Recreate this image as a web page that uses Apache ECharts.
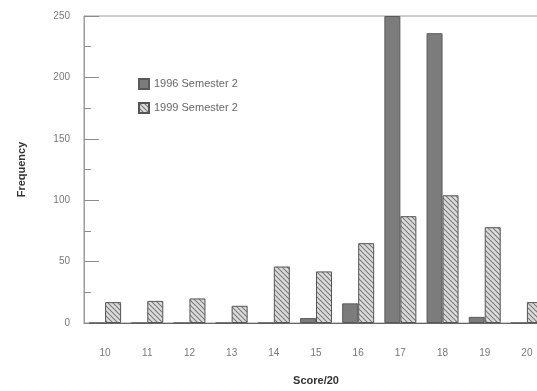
<!DOCTYPE html>
<html>
<head>
<meta charset="utf-8">
<script src="https://cdn.jsdelivr.net/npm/echarts@6/dist/echarts.min.js"></script>
<style>
html,body{margin:0;padding:0;background:#fff;overflow:hidden;width:537px;height:391px;}
#chart{width:549px;height:391px;}
</style>
</head>
<body>
<div id="chart"></div>
<script>
var categories = ['10','11','12','13','14','15','16','17','18','19','20'];
var sem1996 = [0, 0, 0, 0, 0, 4, 16, 250, 236, 5, 0];
var sem1999 = [17, 18, 20, 14, 46, 42, 65, 87, 104, 78, 17];
var yTicks = [0, 50, 100, 150, 200, 250];

function hatch() {
  var s = 5;
  var c = document.createElement('canvas');
  c.width = s; c.height = s;
  var g = c.getContext('2d');
  g.fillStyle = '#dcdcdc';
  g.fillRect(0, 0, s, s);
  g.strokeStyle = '#7a7a7a';
  g.lineWidth = 1.1;
  g.beginPath();
  g.moveTo(-1, -1); g.lineTo(s + 1, s + 1);
  g.moveTo(-1, s - 1); g.lineTo(1, s + 1);
  g.moveTo(s - 1, -1); g.lineTo(s + 1, 1);
  g.stroke();
  return c;
}

var chart = echarts.init(document.getElementById('chart'), null, {renderer: 'canvas'});
var font = 'Liberation Sans, Arial, sans-serif';
chart.setOption({
  animation: false,
  backgroundColor: '#fff',
  grid: {left: 84, top: 16, right: 1, bottom: 65, show: true, borderColor: '#9a9a9a', borderWidth: 1, backgroundColor: 'transparent'},
  legend: {
    orient: 'vertical', left: 133, top: 73, itemWidth: 10, itemHeight: 10, itemGap: 12, icon: 'rect',
    textStyle: {fontFamily: font, fontSize: 11, color: '#666'},
    data: ['1996 Semester 2', '1999 Semester 2']
  },
  xAxis: [{
    type: 'category', data: categories, position: 'bottom',
    name: 'Score/20', nameLocation: 'middle', nameGap: 52,
    nameTextStyle: {fontFamily: font, fontSize: 11, fontWeight: 'bold', color: '#333'},
    axisLine: {lineStyle: {color: '#666', width: 1}},
    axisTick: {alignWithLabel: true, length: 8, lineStyle: {color: '#666'}},
    axisLabel: {fontFamily: font, fontSize: 10, color: '#777', margin: 25}
  }, {
    type: 'category', data: categories, position: 'bottom',
    axisLine: {show: false},
    axisTick: {alignWithLabel: false, length: 4, lineStyle: {color: '#666'}},
    axisLabel: {show: false}
  }],
  yAxis: {
    type: 'value', min: 0, max: 250, interval: 50,
    name: 'Frequency', nameLocation: 'middle', nameGap: 57,
    nameTextStyle: {fontFamily: font, fontSize: 11, fontWeight: 'bold', color: '#333'},
    axisLine: {show: true, lineStyle: {color: '#9a9a9a'}},
    axisTick: {show: true, inside: true, length: 15, lineStyle: {color: '#8a8a8a'}},
    minorTick: {show: true, splitNumber: 2, length: 7, lineStyle: {color: '#8a8a8a'}},
    splitLine: {show: false},
    axisLabel: {fontFamily: font, fontSize: 10, color: '#777', margin: 14,
      formatter: function (v) { return yTicks.indexOf(v) >= 0 ? String(v) : ''; }}
  },
  series: [{
    name: '1996 Semester 2', type: 'bar', data: sem1996, barWidth: 16, barGap: '0%',
    itemStyle: {color: '#7c7c7c', borderColor: '#5a5a5a', borderWidth: 1}
  }, {
    name: '1999 Semester 2', type: 'bar', data: sem1999, barWidth: 16, barGap: '0%',
    itemStyle: {color: {image: hatch(), repeat: 'repeat'}, borderColor: '#555', borderWidth: 1}
  }]
});
</script>
</body>
</html>
